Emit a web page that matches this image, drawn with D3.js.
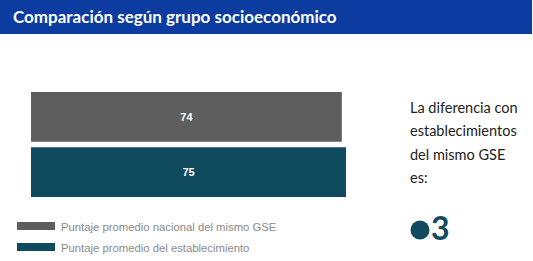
<!DOCTYPE html>
<html><head><meta charset="utf-8">
<script src="https://cdn.jsdelivr.net/npm/d3@7"></script>
<style>body{margin:0;background:#fff}svg{display:block}</style>
</head><body>
<svg id="c" width="533" height="261"></svg>
<script>
const title = "Comparación según grupo socioeconómico";
const categories = ["Puntaje promedio nacional del mismo GSE", "Puntaje promedio del establecimiento"];
const values = [74, 75];
const colors = ["#5e5e5e", "#0f4a5f"];
const sideText = ["La diferencia con", "establecimientos", "del mismo GSE", "es:"];
const difference = "3";

const svg = d3.select("#c");
svg.append("rect").attr("x",0).attr("y",0).attr("width",532).attr("height",34).attr("fill","#0c3c9f");
svg.append("text").attr("x",13).attr("y",23).attr("fill","#fff")
  .attr("font-family","Lato, 'Open Sans', sans-serif").attr("font-weight","bold").attr("font-size",17)
  .text(title);

const x = d3.scaleLinear().domain([0, 75]).range([31, 346]);
const y = d3.scaleBand().domain(categories).range([92, 197]).paddingInner(0.1);

svg.selectAll("rect.bar").data(values).join("rect").attr("class","bar")
  .attr("x", x(0)).attr("y",(d,i)=>y(categories[i]))
  .attr("width",d=>x(d)-x(0)).attr("height",y.bandwidth())
  .attr("fill",(d,i)=>colors[i]);
svg.selectAll("text.val").data(values).join("text").attr("class","val")
  .attr("x",d=>(x(0)+x(d))/2).attr("y",(d,i)=>y(categories[i])+y.bandwidth()/2+4)
  .attr("text-anchor","middle").attr("fill","#fff").attr("font-weight","bold")
  .attr("font-family","Liberation Sans, Arial, sans-serif").attr("font-size",11)
  .text(d=>d);

const lg = svg.selectAll("g.lg").data(categories).join("g").attr("class","lg")
  .attr("transform",(d,i)=>`translate(17,${222+i*21})`);
lg.append("rect").attr("width",38).attr("height",8).attr("fill",(d,i)=>colors[i]);
lg.append("text").attr("x",44).attr("y",8.5).attr("fill","#8a8a8a")
  .attr("font-family","Liberation Sans, Arial, sans-serif").attr("font-size",11.3).text(d=>d);

svg.selectAll("text.side").data(sideText).join("text").attr("class","side")
  .attr("x",410).attr("y",(d,i)=>113+i*23.3).attr("fill","#222")
  .attr("font-family","Lato, 'Open Sans', sans-serif").attr("font-size",14.5).text(d=>d);

svg.append("circle").attr("cx",420).attr("cy",230).attr("r",9.5).attr("fill","#0f4a5f");
svg.append("text").attr("x",431).attr("y",240).attr("fill","#0f4a5f")
  .attr("font-family","Lato, 'Open Sans', sans-serif").attr("font-weight","bold").attr("font-size",32).text(difference);
</script>
</body></html>
